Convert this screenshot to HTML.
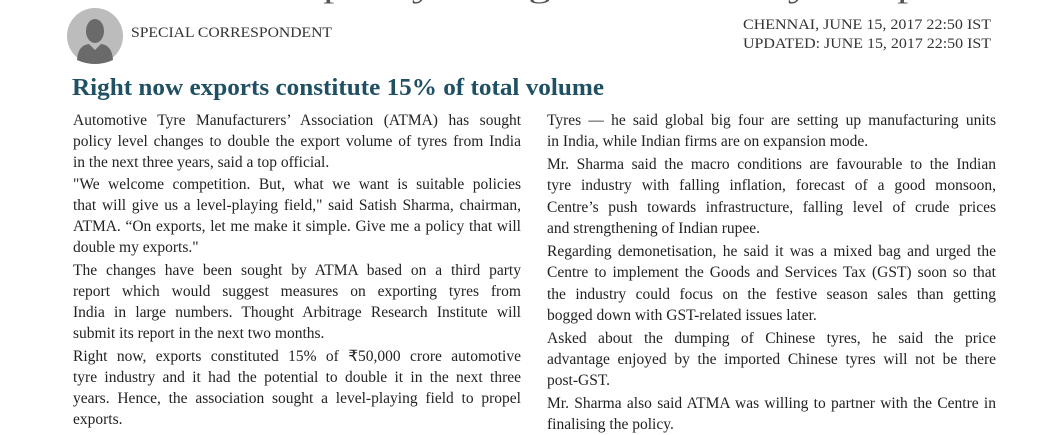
<!DOCTYPE html>
<html><head><meta charset="utf-8"><style>
body{margin:0;width:1058px;height:423px;overflow:hidden;background:#fff;position:relative;font-family:"Liberation Serif",serif;color:#222}
.l,.e{position:absolute;height:21px;line-height:21px;font-size:15.5px;white-space:nowrap;overflow:hidden}
.l{text-align:justify;text-align-last:justify;white-space:normal}
.c1{left:73px;width:448px}
.c2{left:547px;width:449px}
svg{position:absolute;left:0;top:0}
</style></head><body>
<svg width="1058" height="423">
<text x="75" y="-3" font-size="30" fill="#555" font-family="Liberation Serif" textLength="1160" lengthAdjust="spacingAndGlyphs">ATMA wants policy changes to double tyre exports in three years</text>
<circle cx="95" cy="36" r="28" fill="#bcbcbc"/>
<ellipse cx="95" cy="31" rx="9" ry="12" fill="#6a6a6a"/>
<path d="M77 60 Q78 45 89 44 L95 50 L101 44 Q112 45 113 60 Q104 64 95 64 Q86 64 77 60Z" fill="#6a6a6a"/>
<text x="131" y="37" font-size="15" fill="#333" font-family="Liberation Serif" textLength="201" lengthAdjust="spacingAndGlyphs">SPECIAL CORRESPONDENT</text>
<text x="743" y="29" font-size="15" fill="#333" font-family="Liberation Serif" textLength="248" lengthAdjust="spacingAndGlyphs">CHENNAI,  JUNE 15, 2017 22:50 IST</text>
<text x="743" y="48" font-size="15" fill="#333" font-family="Liberation Serif" textLength="248" lengthAdjust="spacingAndGlyphs">UPDATED: JUNE 15, 2017 22:50 IST</text>
<text x="72" y="95" font-size="24" font-weight="bold" fill="#1f5064" font-family="Liberation Serif" textLength="532" lengthAdjust="spacingAndGlyphs">Right now exports constitute 15% of total volume</text>
</svg>
<div class="l c1" style="top:110px">Automotive Tyre Manufacturers’ Association (ATMA) has sought</div>
<div class="l c1" style="top:131px">policy level changes to double the export volume of tyres from India</div>
<div class="e c1" style="top:152px">in the next three years, said a top official.</div>
<div class="l c1" style="top:174px">"We welcome competition. But, what we want is suitable policies</div>
<div class="l c1" style="top:195px">that will give us a level-playing field," said Satish Sharma, chairman,</div>
<div class="l c1" style="top:216px">ATMA. “On exports, let me make it simple. Give me a policy that will</div>
<div class="e c1" style="top:237px">double my exports."</div>
<div class="l c1" style="top:260px">The changes have been sought by ATMA based on a third party</div>
<div class="l c1" style="top:281px">report which would suggest measures on exporting tyres from</div>
<div class="l c1" style="top:302px">India in large numbers. Thought Arbitrage Research Institute will</div>
<div class="e c1" style="top:323px">submit its report in the next two months.</div>
<div class="l c1" style="top:346px">Right now, exports constituted 15% of ₹50,000 crore automotive</div>
<div class="l c1" style="top:367px">tyre industry and it had the potential to double it in the next three</div>
<div class="l c1" style="top:388px">years. Hence, the association sought a level-playing field to propel</div>
<div class="e c1" style="top:409px">exports.</div>

<div class="l c2" style="top:110px">Tyres — he said global big four are setting up manufacturing units</div>
<div class="e c2" style="top:131px">in India, while Indian firms are on expansion mode.</div>
<div class="l c2" style="top:154px">Mr. Sharma said the macro conditions are favourable to the Indian</div>
<div class="l c2" style="top:175px">tyre industry with falling inflation, forecast of a good monsoon,</div>
<div class="l c2" style="top:197px">Centre’s push towards infrastructure, falling level of crude prices</div>
<div class="e c2" style="top:218px">and strengthening of Indian rupee.</div>
<div class="l c2" style="top:241px">Regarding demonetisation, he said it was a mixed bag and urged the</div>
<div class="l c2" style="top:262px">Centre to implement the Goods and Services Tax (GST) soon so that</div>
<div class="l c2" style="top:284px">the industry could focus on the festive season sales than getting</div>
<div class="e c2" style="top:305px">bogged down with GST-related issues later.</div>
<div class="l c2" style="top:328px">Asked about the dumping of Chinese tyres, he said the price</div>
<div class="l c2" style="top:349px">advantage enjoyed by the imported Chinese tyres will not be there</div>
<div class="e c2" style="top:370px">post-GST.</div>
<div class="l c2" style="top:393px">Mr. Sharma also said ATMA was willing to partner with the Centre in</div>
<div class="e c2" style="top:414px">finalising the policy.</div>
</body></html>
